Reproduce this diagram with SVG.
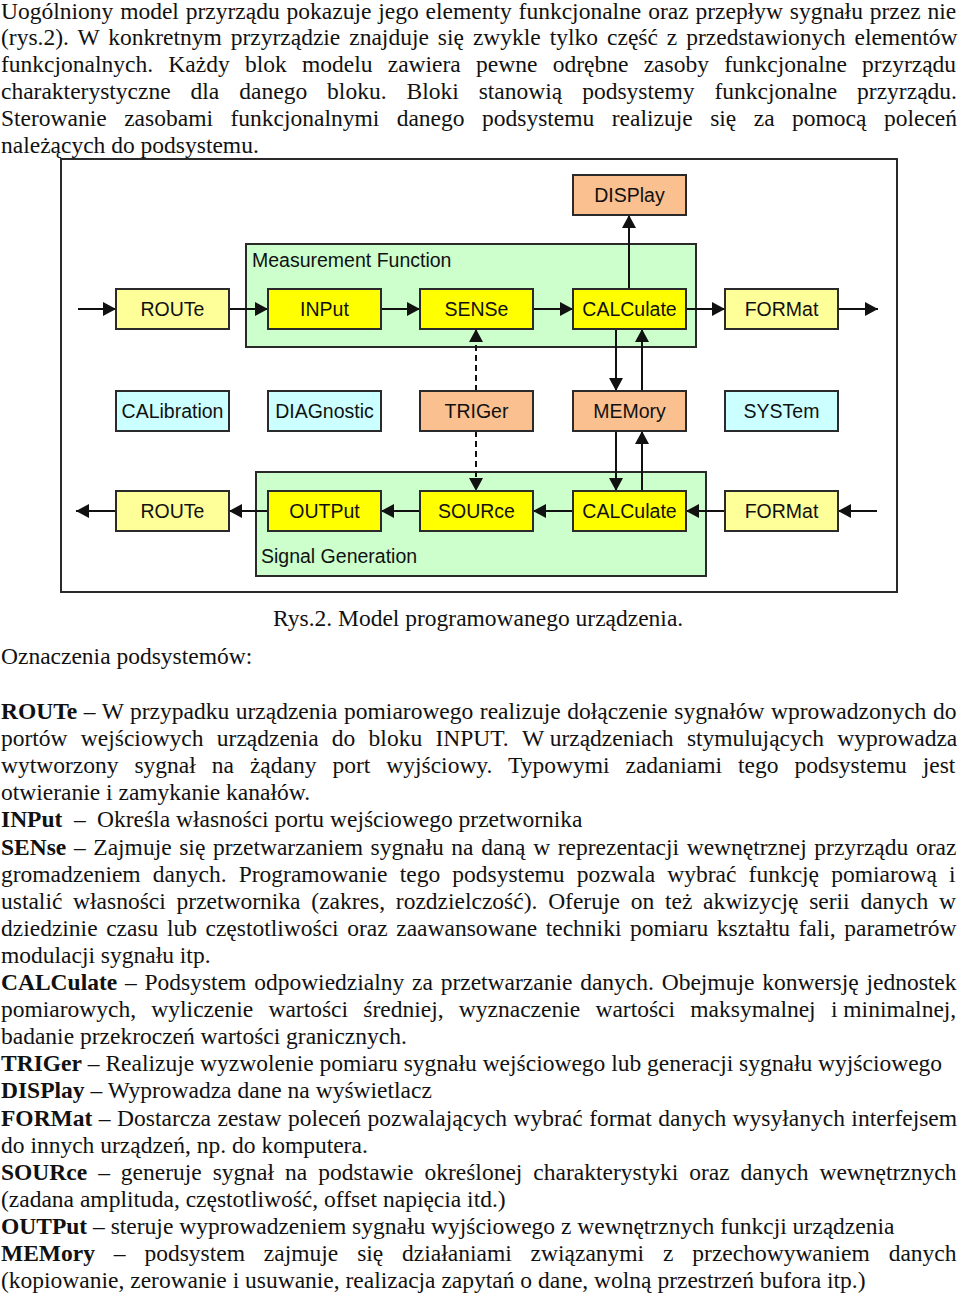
<svg xmlns="http://www.w3.org/2000/svg" width="960" height="1296" viewBox="0 0 960 1296">
<style>
.body{font-family:"Liberation Serif","Times New Roman",serif;font-size:23.5px;fill:#111}
.b{font-weight:bold}
.ns{word-spacing:0}
.lbl{font-family:"Liberation Sans",Arial,sans-serif;font-size:19.5px;fill:#111;text-anchor:middle}
.grp{font-family:"Liberation Sans",Arial,sans-serif;font-size:19.5px;fill:#111}
.box{stroke:#2a2a2a;stroke-width:2}
.py{fill:#ffff99}.y{fill:#ffff00}.pe{fill:#fac08f}.cy{fill:#ccffff}
.gr{fill:#ccffcc;stroke:#2a2a2a;stroke-width:2}
.c{stroke:#111;stroke-width:2;fill:none;marker-end:url(#ah)}
.d{stroke-dasharray:6,4}
</style>
<defs>
<marker id="ah" markerUnits="userSpaceOnUse" markerWidth="14" markerHeight="14" refX="13" refY="7" orient="auto">
<path d="M0,0 L13,7 L0,14 z" fill="#111"/>
</marker>
</defs>
<rect width="960" height="1296" fill="#fff"/>

<g id="intro" class="body">
<text x="1" y="19" word-spacing="1.0">Uogólniony model przyrządu pokazuje jego elementy funkcjonalne oraz przepływ sygnału przez nie</text>
<text x="1" y="45" word-spacing="3.1">(rys.2). W konkretnym przyrządzie znajduje się zwykle tylko część z przedstawionych elementów</text>
<text x="1" y="72" word-spacing="9.4">funkcjonalnych. Każdy blok modelu zawiera pewne odrębne zasoby funkcjonalne przyrządu</text>
<text x="1" y="99" word-spacing="14.1">charakterystyczne dla danego bloku. Bloki stanowią podsystemy funkcjonalne przyrządu.</text>
<text x="1" y="126" word-spacing="11.6">Sterowanie zasobami funkcjonalnymi danego podsystemu realizuje się za pomocą poleceń</text>
<text x="1" y="153">należących do podsystemu.</text>
</g>

<rect id="frame" x="61" y="159" width="836" height="433" fill="none" stroke="#2a2a2a" stroke-width="2"/>

<g id="measurement-function">
<rect class="gr" x="246" y="244" width="450" height="103"/>
<text class="grp" x="252" y="267">Measurement Function</text>
</g>
<g id="signal-generation">
<rect class="gr" x="256" y="472" width="450" height="104"/>
<text class="grp" x="261" y="563">Signal Generation</text>
</g>

<g id="connectors">
<path class="c" d="M78,309 H116"/>
<path class="c" d="M229,309 H268"/>
<path class="c" d="M381,309 H420"/>
<path class="c" d="M533,309 H573"/>
<path class="c" d="M686,309 H725"/>
<path class="c" d="M838,309 H878"/>
<path class="c" d="M629,289 V215"/>
<path class="c" d="M616,329 V391"/>
<path class="c" d="M642,391 V329"/>
<path class="c d" d="M476,391 V329"/>
<path class="c" d="M877,511 H838"/>
<path class="c" d="M725,511 H686"/>
<path class="c" d="M573,511 H533"/>
<path class="c" d="M420,511 H381"/>
<path class="c" d="M268,511 H229"/>
<path class="c" d="M116,511 H76"/>
<path class="c" d="M616,431 V491"/>
<path class="c" d="M642,491 V431"/>
<path class="c d" d="M476,431 V491"/>
</g>

<g id="display"><rect class="box pe" x="573" y="175" width="113" height="40"/><text class="lbl" x="629.5" y="202">DISPlay</text></g>

<g id="route-in"><rect class="box py" x="116" y="289" width="113" height="40"/><text class="lbl" x="172.5" y="316">ROUTe</text></g>
<g id="input"><rect class="box y" x="268" y="289" width="113" height="40"/><text class="lbl" x="324.5" y="316">INPut</text></g>
<g id="sense"><rect class="box y" x="420" y="289" width="113" height="40"/><text class="lbl" x="476.5" y="316">SENSe</text></g>
<g id="calculate-in"><rect class="box y" x="573" y="289" width="113" height="40"/><text class="lbl" x="629.5" y="316">CALCulate</text></g>
<g id="format-in"><rect class="box py" x="725" y="289" width="113" height="40"/><text class="lbl" x="781.5" y="316">FORMat</text></g>

<g id="calibration"><rect class="box cy" x="116" y="391" width="113" height="40"/><text class="lbl" x="172.5" y="418">CALibration</text></g>
<g id="diagnostic"><rect class="box cy" x="268" y="391" width="113" height="40"/><text class="lbl" x="324.5" y="418">DIAGnostic</text></g>
<g id="trigger"><rect class="box pe" x="420" y="391" width="113" height="40"/><text class="lbl" x="476.5" y="418">TRIGer</text></g>
<g id="memory"><rect class="box pe" x="573" y="391" width="113" height="40"/><text class="lbl" x="629.5" y="418">MEMory</text></g>
<g id="system"><rect class="box cy" x="725" y="391" width="113" height="40"/><text class="lbl" x="781.5" y="418">SYSTem</text></g>

<g id="route-out"><rect class="box py" x="116" y="491" width="113" height="40"/><text class="lbl" x="172.5" y="518">ROUTe</text></g>
<g id="output"><rect class="box y" x="268" y="491" width="113" height="40"/><text class="lbl" x="324.5" y="518">OUTPut</text></g>
<g id="source"><rect class="box y" x="420" y="491" width="113" height="40"/><text class="lbl" x="476.5" y="518">SOURce</text></g>
<g id="calculate-out"><rect class="box y" x="573" y="491" width="113" height="40"/><text class="lbl" x="629.5" y="518">CALCulate</text></g>
<g id="format-out"><rect class="box py" x="725" y="491" width="113" height="40"/><text class="lbl" x="781.5" y="518">FORMat</text></g>

<g id="caption" class="body">
<text x="273" y="626">Rys.2. Model programowanego urządzenia.</text>
<text x="1" y="664">Oznaczenia podsystemów:</text>
</g>

<g id="legend" class="body">
<text x="1" y="719" word-spacing="0.7"><tspan class="b">ROUTe</tspan> – W przypadku urządzenia pomiarowego realizuje dołączenie sygnałów wprowadzonych do</text>
<text x="1" y="746" word-spacing="7.4">portów wejściowych urządzenia do bloku INPUT. <tspan class="ns">W urządzeniach</tspan> stymulujących wyprowadza</text>
<text x="1" y="773" word-spacing="10.1">wytworzony sygnał na żądany port wyjściowy. Typowymi zadaniami tego podsystemu jest</text>
<text x="1" y="800">otwieranie i zamykanie kanałów.</text>
<text x="1" y="827"><tspan class="b">INPut</tspan><tspan x="74">–</tspan><tspan x="97">Określa własności portu wejściowego przetwornika</tspan></text>
<text x="1" y="855" word-spacing="1.75"><tspan class="b">SENse</tspan> – Zajmuje się przetwarzaniem sygnału na daną w reprezentacji wewnętrznej przyrządu oraz</text>
<text x="1" y="882" word-spacing="6.3">gromadzeniem danych. Programowanie tego podsystemu pozwala wybrać funkcję pomiarową i</text>
<text x="1" y="909" word-spacing="4.9">ustalić własności przetwornika (zakres, rozdzielczość). Oferuje on też akwizycję serii danych w</text>
<text x="1" y="936" word-spacing="2.7">dziedzinie czasu lub częstotliwości oraz zaawansowane techniki pomiaru kształtu fali, parametrów</text>
<text x="1" y="963">modulacji sygnału itp.</text>
<text x="1" y="990" word-spacing="1.9"><tspan class="b">CALCulate</tspan> – Podsystem odpowiedzialny za przetwarzanie danych. Obejmuje konwersję jednostek</text>
<text x="1" y="1017" word-spacing="9.4">pomiarowych, wyliczenie wartości średniej, wyznaczenie wartości maksymalnej <tspan class="ns">i minimalnej,</tspan></text>
<text x="1" y="1044">badanie przekroczeń wartości granicznych.</text>
<text x="1" y="1071"><tspan class="b">TRIGer</tspan> – Realizuje wyzwolenie pomiaru sygnału wejściowego lub generacji sygnału wyjściowego</text>
<text x="1" y="1098"><tspan class="b">DISPlay</tspan> – Wyprowadza dane na wyświetlacz</text>
<text x="1" y="1126" word-spacing="0.6"><tspan class="b">FORMat</tspan> – Dostarcza zestaw poleceń pozwalających wybrać format danych wysyłanych interfejsem</text>
<text x="1" y="1153">do innych urządzeń, np. do komputera.</text>
<text x="1" y="1180" word-spacing="5.1"><tspan class="b">SOURce</tspan> – generuje sygnał na podstawie określonej charakterystyki oraz danych wewnętrznych</text>
<text x="1" y="1207">(zadana amplituda, częstotliwość, offset napięcia itd.)</text>
<text x="1" y="1234"><tspan class="b">OUTPut</tspan> – steruje wyprowadzeniem sygnału wyjściowego z wewnętrznych funkcji urządzenia</text>
<text x="1" y="1261" word-spacing="13"><tspan class="b">MEMory</tspan> – podsystem zajmuje się działaniami związanymi z przechowywaniem danych</text>
<text x="1" y="1288">(kopiowanie, zerowanie i usuwanie, realizacja zapytań o dane, wolną przestrzeń bufora itp.)</text>
</g>
</svg>
